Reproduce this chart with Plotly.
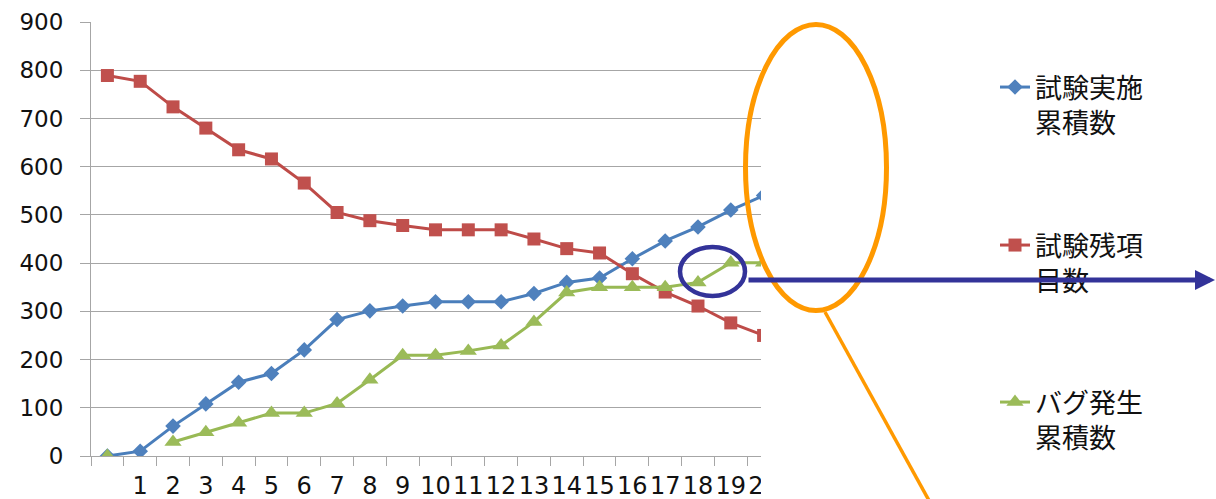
import plotly.graph_objects as go

# Day labels along the x axis (first slot is the start point, unlabeled)
day_labels = [""] + [str(d) for d in range(1, 21)]

# Cumulative tests executed
tests_done = [0, 10, 62, 108, 153, 171, 220, 283, 301, 311, 320, 320, 320,
              337, 360, 369, 409, 446, 475, 510, 540]
# Remaining test items
tests_left = [789, 777, 724, 680, 635, 616, 566, 505, 488, 478, 469, 469, 469,
              450, 430, 421, 378, 340, 311, 276, 250]
# Cumulative bugs found (no entry for day 1)
bugs_found = [0, None, 29, 49, 69, 89, 89, 109, 158, 209, 209, 218, 229,
              278, 339, 350, 350, 350, 360, 401, 401]

series_names = ["試験実施<br>累積数", "試験残項<br>目数", "バグ発生<br>累積数"]

W, H = 1216, 499
PL, PR, PT, PB = 91, 780, 22, 456  # plot area edges in pixels


def px(x):
    return (x - PL) / (PR - PL)


def py(y):
    return (PB - y) / (PB - PT)


xs = list(range(len(day_labels)))
GRID = "#a6a6a6"
TXT = "#111111"

fig = go.Figure()
fig.add_trace(go.Scatter(
    x=xs, y=tests_done, name=series_names[0], mode="lines+markers",
    line=dict(color="#4A7EBB", width=3),
    marker=dict(symbol="diamond", size=12, color="#4F81BD"),
    legend="legend"))
fig.add_trace(go.Scatter(
    x=xs, y=tests_left, name=series_names[1], mode="lines+markers",
    line=dict(color="#BE4B48", width=3),
    marker=dict(symbol="square", size=13, color="#C0504D"),
    legend="legend2"))
fig.add_trace(go.Scatter(
    x=xs, y=bugs_found, name=series_names[2], mode="lines+markers",
    line=dict(color="#98B954", width=3),
    marker=dict(symbol="triangle-up", size=15, color="#9BBB59"),
    legend="legend3"))

legend_font = dict(family="Noto Sans CJK JP", size=27, color=TXT)
legend_common = dict(x=px(995), xanchor="left", yanchor="top", valign="top",
                     font=legend_font, bgcolor="rgba(0,0,0,0)", borderwidth=0)

fig.update_layout(
    width=W, height=H,
    margin=dict(l=PL, r=W - PR, t=PT, b=H - PB, pad=0),
    paper_bgcolor="white", plot_bgcolor="white",
    showlegend=True,
    legend=dict(y=py(63), **legend_common),
    legend2=dict(y=py(221), **legend_common),
    legend3=dict(y=py(378), **legend_common),
    xaxis=dict(
        range=[-0.5, 20.5], tickmode="array", tickvals=xs, ticktext=day_labels,
        ticks="", showgrid=False, zeroline=False, automargin=False,
        tickangle=0,
        showline=True, linecolor=GRID, linewidth=1,
        tickfont=dict(family="DejaVu Sans", size=24, color=TXT),
        ticklabelstandoff=8,
        minor=dict(tick0=0.5, dtick=1, ticks="outside", ticklen=9,
                   tickcolor=GRID, tickwidth=1, showgrid=False),
    ),
    yaxis=dict(
        range=[0, 900], tick0=0, dtick=100, automargin=False,
        showgrid=True, gridcolor=GRID, gridwidth=1, zeroline=False,
        showline=True, linecolor=GRID, linewidth=1,
        ticks="outside", ticklen=10, tickcolor=GRID,
        tickfont=dict(family="DejaVu Sans", size=23, color=TXT),
        ticklabelstandoff=12,
    ),
)

# White panel that trims the right end of the axis area
fig.add_shape(type="rect", xref="paper", yref="paper",
              x0=px(761), x1=px(990), y0=py(H + 5), y1=py(-5),
              fillcolor="white", line=dict(width=0), layer="above")
# Orange callout: ellipse with a leader line
fig.add_shape(type="line", xref="paper", yref="paper",
              x0=px(825), y0=py(312), x1=px(937), y1=py(515),
              line=dict(color="#FF9900", width=3.5), layer="above")
fig.add_shape(type="circle", xref="paper", yref="paper",
              x0=px(745.5), x1=px(886.5), y0=py(310.5), y1=py(24.5),
              line=dict(color="#FF9900", width=5), layer="above")
# Navy highlight ring
fig.add_shape(type="circle", xref="paper", yref="paper",
              x0=px(680), x1=px(745), y0=py(296), y1=py(247),
              line=dict(color="#333399", width=4.5), layer="above")
# Navy arrow pointing right
fig.add_annotation(xref="paper", yref="paper", x=px(1222), y=py(280),
                   ax=-475, ay=0, text="", showarrow=True,
                   arrowhead=2, arrowsize=0.8, arrowwidth=5,
                   arrowcolor="#333399", standoff=0)

fig.write_html("out.html")
